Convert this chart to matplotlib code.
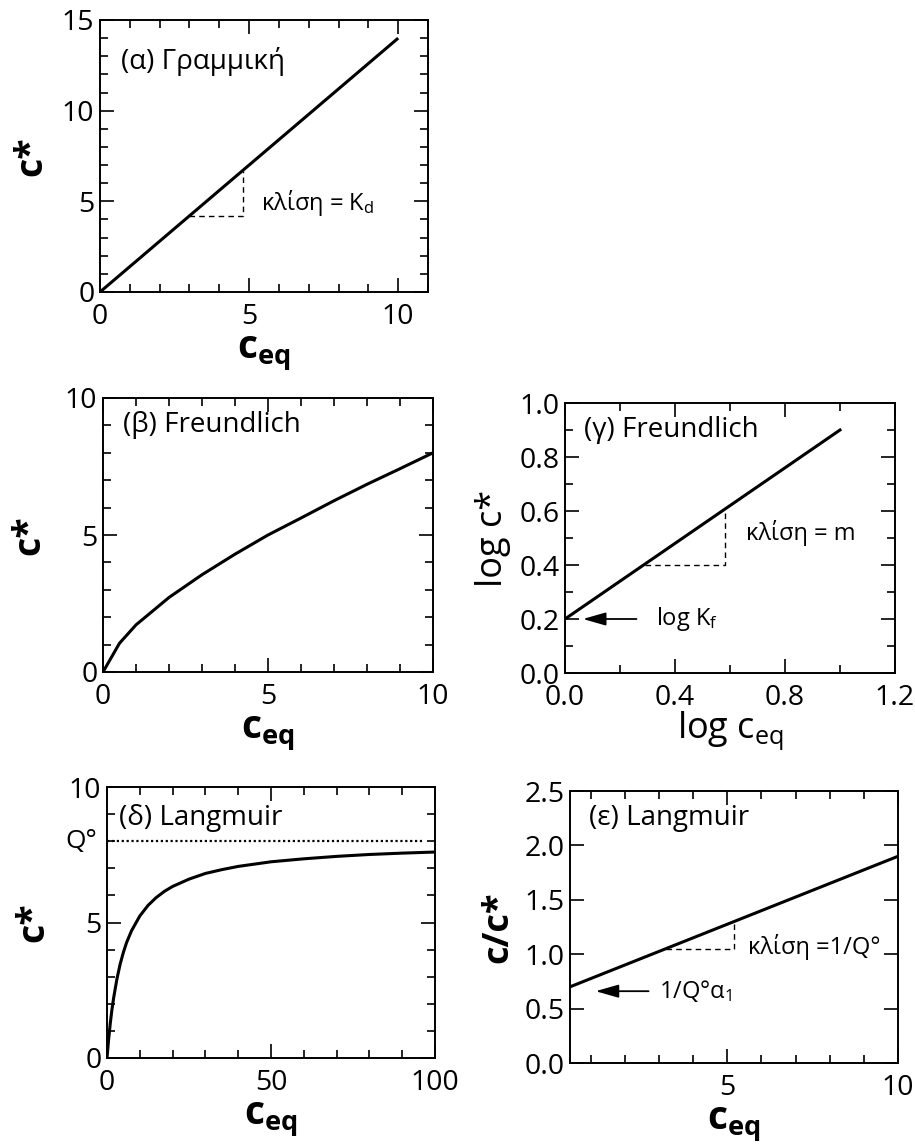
import matplotlib
matplotlib.use("Agg")
import matplotlib.pyplot as plt
from matplotlib.ticker import MultipleLocator, FormatStrFormatter

plt.rcParams["font.family"] = ["Open Sans", "DejaVu Sans"]
plt.rcParams["mathtext.fontset"] = "custom"
plt.rcParams["mathtext.rm"] = "Open Sans"
plt.rcParams["mathtext.bf"] = "Open Sans:bold"
plt.rcParams["mathtext.it"] = "Open Sans:italic"

# (α) linear isotherm
lin_ceq = [0, 10]
lin_cstar = [0, 14]
lin_slope_x = [3.0, 4.8, 4.8]
lin_slope_y = [4.2, 4.2, 6.7]

# (β) Freundlich
fr_ceq = [0, 0.5, 1, 2, 3, 4, 5, 6, 7, 8, 9, 10]
fr_cstar = [0, 1.05, 1.72, 2.72, 3.55, 4.3, 5.0, 5.62, 6.25, 6.85, 7.42, 8.0]

# (γ) Freundlich, log-log
fr_logc = [0.0, 1.0]
fr_logcs = [0.2, 0.9]
fr_slope_x = [0.29, 0.58, 0.58]
fr_slope_y = [0.4, 0.4, 0.606]
log_kf = 0.2

# (δ) Langmuir
la_ceq = [0, 0.5, 1, 1.5, 2, 3, 4, 5, 6, 7.5, 10, 12.5, 15, 17.5, 20, 25, 30,
          35, 40, 50, 60, 70, 80, 90, 100]
la_cstar = [0, 0.69, 1.28, 1.78, 2.2, 2.9, 3.46, 3.9, 4.27, 4.7, 5.24, 5.63,
            5.92, 6.15, 6.33, 6.6, 6.81, 6.95, 7.07, 7.24, 7.35, 7.44, 7.51,
            7.56, 7.6]
q0 = 8.0
q0_span = [0, 96]

# (ε) Langmuir, linearised
la_lin_ceq = [0.4, 10]
la_ratio = [0.70, 1.90]
la_slope_x = [3.2, 5.2, 5.2]
la_slope_y = [1.05, 1.05, 1.3]
la_intercept = 0.66

W, H = 915, 1144
fig = plt.figure(figsize=(W / 100, H / 100), dpi=100)


def axes_px(left, top, right, bottom):
    return fig.add_axes([left / W, 1 - bottom / H, (right - left) / W, (bottom - top) / H])


def style(ax, xmaj, xmin, ymaj, ymin):
    ax.xaxis.set_major_locator(MultipleLocator(xmaj))
    ax.yaxis.set_major_locator(MultipleLocator(ymaj))
    if xmin:
        ax.xaxis.set_minor_locator(MultipleLocator(xmin))
    if ymin:
        ax.yaxis.set_minor_locator(MultipleLocator(ymin))
    ax.tick_params(which="both", direction="in", top=True, right=True,
                   labelsize=20.5, width=1.2)
    ax.tick_params(axis="x", which="both", pad=8)
    ax.tick_params(axis="y", which="both", pad=4)
    ax.tick_params(which="major", length=10)
    ax.tick_params(which="minor", length=6)
    for sp in ax.spines.values():
        sp.set_linewidth(1.4)


LW = 2.2
ceq_label = r"$\mathbf{c}_{\mathbf{eq}}$"
ann = dict(fontsize=17)
arrow = dict(arrowstyle="-|>,head_length=1.4,head_width=0.4",
             color="black", lw=1.3, shrinkA=0, shrinkB=0)

# (α)
ax = axes_px(100, 20, 428, 292)
ax.plot(lin_ceq, lin_cstar, color="black", lw=LW, solid_capstyle="butt")
ax.plot(lin_slope_x, lin_slope_y, color="black", lw=1.0, ls=(0, (4, 3)))
ax.set_xlim(0, 11)
ax.set_ylim(0, 15)
style(ax, 5, 1, 5, 1)
ax.text(0.7, 12.7, "(α) Γραμμική", fontsize=20, va="center")
ax.text(5.4, 4.9, r"κλίση = K$_\mathrm{d}$", va="center", **ann)
ax.set_xlabel(ceq_label, fontsize=28, labelpad=2)
ax.set_ylabel("c*", fontsize=27, fontweight="bold", labelpad=8)

# (β)
ax = axes_px(103, 398, 433, 672)
ax.plot(fr_ceq, fr_cstar, color="black", lw=LW)
ax.set_xlim(0, 10)
ax.set_ylim(0, 10)
style(ax, 5, 1, 5, 1)
ax.text(0.6, 9.0, "(β) Freundlich", fontsize=20, va="center")
ax.set_xlabel(ceq_label, fontsize=28, labelpad=2)
ax.set_ylabel("c*", fontsize=27, fontweight="bold", labelpad=12)

# (γ)
ax = axes_px(565, 403, 895, 673)
ax.plot(fr_logc, fr_logcs, color="black", lw=LW)
ax.plot(fr_slope_x, fr_slope_y, color="black", lw=1.0, ls=(0, (4, 3)))
ax.set_xlim(0, 1.2)
ax.set_ylim(0, 1.0)
style(ax, 0.4, 0.2, 0.2, 0.1)
ax.xaxis.set_major_formatter(FormatStrFormatter("%.1f"))
ax.yaxis.set_major_formatter(FormatStrFormatter("%.1f"))
ax.text(0.07, 0.9, "(γ) Freundlich", fontsize=20, va="center")
ax.text(0.66, 0.52, "κλίση = m", va="center", **ann)
ax.annotate("", xy=(0.065, log_kf), xytext=(0.26, log_kf), arrowprops=arrow)
ax.text(0.33, log_kf, r"log K$_\mathrm{f}$", va="center", **ann)
ax.set_xlabel(r"log c$_\mathrm{eq}$", fontsize=26, labelpad=-2)
ax.set_ylabel("log c*", fontsize=26, labelpad=6)

# (δ)
ax = axes_px(107, 787, 435, 1058)
ax.plot(la_ceq, la_cstar, color="black", lw=LW)
ax.plot(q0_span, [q0, q0], color="black", lw=1.6, ls=(0, (1, 1.2)))
ax.set_xlim(0, 100)
ax.set_ylim(0, 10)
style(ax, 50, 10, 5, 1)
ax.text(3.7, 8.85, "(δ) Langmuir", fontsize=20, va="center")
ax.text(-0.03, q0, "Q°", transform=ax.get_yaxis_transform(), ha="right",
        va="center", fontsize=19)
ax.set_xlabel(ceq_label, fontsize=28, labelpad=2)
ax.set_ylabel("c*", fontsize=27, fontweight="bold", labelpad=12)

# (ε)
ax = axes_px(570, 791, 898, 1063)
ax.plot(la_lin_ceq, la_ratio, color="black", lw=LW)
ax.plot(la_slope_x, la_slope_y, color="black", lw=1.0, ls=(0, (4, 3)))
ax.set_xlim(0.4, 10)
ax.set_ylim(0, 2.5)
style(ax, 5, 1, 0.5, None)
ax.yaxis.set_major_formatter(FormatStrFormatter("%.1f"))
ax.text(0.95, 2.25, "(ε) Langmuir", fontsize=20, va="center")
ax.text(5.6, 1.07, "κλίση =1/Q°", va="center", **ann)
ax.annotate("", xy=(1.15, la_intercept), xytext=(2.7, la_intercept), arrowprops=arrow)
ax.text(3.0, la_intercept, r"1/Q°α$_1$", va="center", **ann)
ax.set_xlabel(ceq_label, fontsize=28, labelpad=2)
ax.set_ylabel("c/c*", fontsize=26, fontweight="bold", labelpad=6)

fig.savefig("out.png", dpi=100)
